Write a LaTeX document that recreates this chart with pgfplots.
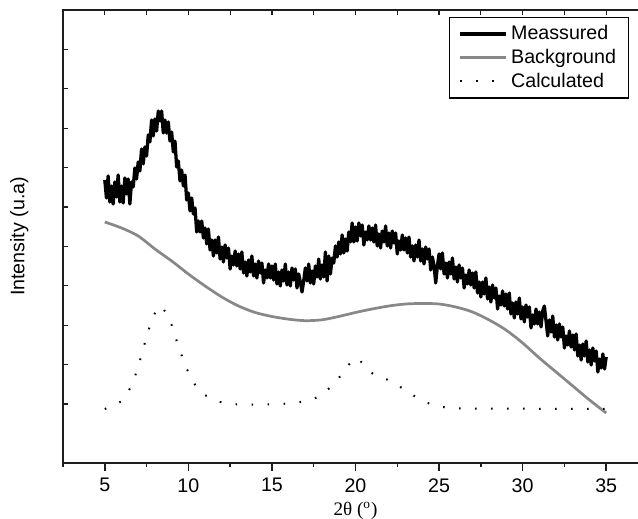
\documentclass[border=0pt]{standalone}
\usepackage{fontspec}
\setmainfont{Liberation Sans}
\newfontfamily\timesf{Liberation Serif}
\usepackage{pgfplots}
\pgfplotsset{compat=1.18}
\definecolor{bggray}{RGB}{136,136,136}
\definecolor{axcol}{RGB}{30,30,30}
\begin{document}
\begin{tikzpicture}
\path[use as bounding box] (-34.65pt,-30.8pt) rectangle (316.25pt,254.65pt);
\begin{axis}[
  at={(0pt,0pt)}, anchor=south west, scale only axis,
  width=321.75pt, height=249.15pt,
  xmin=2.5, xmax=37.5, ymin=0, ymax=453,
  xtick={5,10,...,35},
  minor xtick={2.5,7.5,...,37.5},
  ytick=\empty,
  xtick pos=left, tick align=outside,
  major tick length=4.4pt, minor tick length=2.2pt,
  every tick/.style={line width=0.8pt, axcol},
  axis line style={line width=0.8pt, axcol},
  /pgf/number format/assume math mode=true,
  xticklabel style={font=\fontsize{10.8}{13}\selectfont, yshift=-0.5pt},
  xlabel={\timesf 2θ (\textsuperscript{o})},
  xlabel style={at={(axis description cs:0.5,0)}, anchor=center, yshift=-26.5pt, font=\fontsize{10.5}{12}\selectfont},
  ylabel={Intensity (u.a)},
  ylabel style={at={(axis description cs:-0.048,0.5)}, anchor=south, font=\fontsize{10.8}{13}\selectfont},
  legend image code/.code={\draw[#1] (0pt,0pt) -- (25pt,0pt);},
  legend cell align=left,
  legend style={at={(rel axis cs:0.968,0.985)}, anchor=north east, draw=black, line width=0.6pt,
    font=\fontsize{10.8}{13}\selectfont, inner xsep=5pt, inner ysep=2.5pt, row sep=-0.3pt,
    nodes={inner xsep=2pt}},
]
\addplot[black, line width=1.8pt, line join=round] coordinates {
(5.0,283) (5.1,265) (5.2,287) (5.3,261) (5.4,277) (5.5,259) (5.6,281) (5.7,266) (5.8,288) (5.9,261)
(6.0,277) (6.1,260) (6.2,285) (6.3,269) (6.4,284) (6.5,259) (6.6,281) (6.7,276) (6.8,295) (6.9,284)
(7.0,301) (7.1,292) (7.2,314) (7.3,299) (7.4,316) (7.5,307) (7.6,328) (7.7,321) (7.8,343) (7.9,327)
(8.0,344) (8.1,332) (8.2,352) (8.3,342) (8.4,352) (8.5,330) (8.6,343) (8.7,330) (8.8,341) (8.9,322)
(9.0,331) (9.1,311) (9.2,322) (9.3,296) (9.4,302) (9.5,282) (9.6,293) (9.7,277) (9.8,288) (9.9,263)
(10.0,270) (10.1,252) (10.2,265) (10.3,249) (10.4,255) (10.5,231) (10.6,242) (10.7,231) (10.8,242) (10.9,225)
(11.0,235) (11.1,219) (11.2,234) (11.3,213) (11.4,223) (11.5,207) (11.6,223) (11.7,210) (11.8,226) (11.9,204)
(12.0,216) (12.1,201) (12.2,218) (12.3,205) (12.4,215) (12.5,194) (12.6,207) (12.7,198) (12.8,212) (12.9,197)
(13.0,209) (13.1,194) (13.2,211) (13.3,190) (13.4,201) (13.5,187) (13.6,203) (13.7,191) (13.8,207) (13.9,187)
(14.0,199) (14.1,185) (14.2,202) (14.3,190) (14.4,200) (14.5,180) (14.6,193) (14.7,185) (14.8,199) (14.9,185)
(15.0,197) (15.1,183) (15.2,199) (15.3,179) (15.4,191) (15.5,177) (15.6,193) (15.7,182) (15.8,199) (15.9,178)
(16.0,191) (16.1,177) (16.2,195) (16.3,183) (16.4,194) (16.5,175) (16.6,189) (16.7,181) (16.8,171) (16.9,182)
(17.0,195) (17.1,182) (17.2,199) (17.3,180) (17.4,192) (17.5,179) (17.6,197) (17.7,186) (17.8,204) (17.9,184)
(18.0,198) (18.1,186) (18.2,211) (18.3,182) (18.4,207) (18.5,189) (18.6,205) (18.7,200) (18.8,217) (18.9,206)
(19.0,221) (19.1,209) (19.2,228) (19.3,210) (19.4,224) (19.5,212) (19.6,231) (19.7,221) (19.8,240) (19.9,221)
(20.0,236) (20.1,222) (20.2,240) (20.3,227) (20.4,238) (20.5,218) (20.6,231) (20.7,223) (20.8,237) (20.9,223)
(21.0,235) (21.1,221) (21.2,238) (21.3,217) (21.4,229) (21.5,215) (21.6,232) (21.7,221) (21.8,237) (21.9,217)
(22.0,230) (22.1,215) (22.2,232) (22.3,220) (22.4,230) (22.5,209) (22.6,222) (22.7,213) (22.8,228) (22.9,213)
(23.0,225) (23.1,210) (23.2,226) (23.3,206) (23.4,217) (23.5,202) (23.6,218) (23.7,206) (23.8,223) (23.9,202)
(24.0,214) (24.1,199) (24.2,216) (24.3,204) (24.4,214) (24.5,193) (24.6,206) (24.7,197) (24.8,180) (24.9,197)
(25.0,209) (25.1,194) (25.2,210) (25.3,189) (25.4,200) (25.5,185) (25.6,201) (25.7,189) (25.8,205) (25.9,184)
(26.0,196) (26.1,181) (26.2,198) (26.3,185) (26.4,195) (26.5,175) (26.6,188) (26.7,179) (26.8,193) (26.9,178)
(27.0,190) (27.1,175) (27.2,191) (27.3,170) (27.4,181) (27.5,166) (27.6,181) (27.7,169) (27.8,185) (27.9,164)
(28.0,176) (28.1,161) (28.2,178) (28.3,165) (28.4,175) (28.5,154) (28.6,167) (28.7,158) (28.8,172) (28.9,157)
(29.0,169) (29.1,154) (29.2,170) (29.3,149) (29.4,160) (29.5,145) (29.6,161) (29.7,149) (29.8,165) (29.9,144)
(30.0,156) (30.1,141) (30.2,158) (30.3,146) (30.4,156) (30.5,135) (30.6,148) (30.7,139) (30.8,154) (30.9,139)
(31.0,151) (31.1,136) (31.2,152) (31.3,157) (31.4,142) (31.5,127) (31.6,143) (31.7,131) (31.8,147) (31.9,126)
(32.0,138) (32.1,123) (32.2,139) (32.3,126) (32.4,136) (32.5,115) (32.6,127) (32.7,118) (32.8,132) (32.9,116)
(33.0,128) (33.1,113) (33.2,129) (33.3,107) (33.4,118) (33.5,103) (33.6,119) (33.7,107) (33.8,122) (33.9,101)
(34.0,113) (34.1,98) (34.2,115) (34.3,102) (34.4,112) (34.5,91) (34.6,104) (34.7,95) (34.8,109) (34.9,94)
(35.0,106)
};
\addlegendentry{Meassured}
\addplot[bggray, line width=1.5pt, smooth] coordinates {
(5,241) (6,235) (7,227) (8,214) (9,202) (10,189) (11,177) (12,166) (13,157) (14,150.5)
(15,146.5) (16,143.8) (17,142.3) (18,143.2) (19,146.5) (20,150.5) (21,154) (22,157) (23,159) (24,159.5)
(25,159) (26,156) (27,151) (28,143) (29,133) (30,120) (31,105) (32,91) (33,77) (34,63) (35,50)
};
\addlegendentry{Background}
\addplot[black, line width=1.1pt, dash pattern=on 0.9pt off 7.9pt, smooth, tension=0.4] coordinates {
(5,54) (6,62) (6.6,77.5) (6.95,94) (7.25,111) (7.53,128) (7.84,144) (8.1,153) (8.3,157) (8.52,154)
(9.0,138) (9.34,120) (9.68,104) (10.1,87) (10.73,71) (11.7,62) (12.6,59) (13.6,58.5) (14.6,58.5) (15.55,59)
(16.5,60.5) (17.5,64) (18.45,75) (19.0,85) (19.78,102) (20.1,105) (20.45,99) (21.13,88) (22.1,82) (23.05,72)
(24.03,62) (24.98,56.5) (25.95,55) (27,54.5) (35,54)
};
\addlegendentry{Calculated}
\end{axis}
\begin{axis}[
  at={(0pt,0pt)}, anchor=south west, scale only axis,
  width=321.75pt, height=249.15pt,
  xmin=2.5, xmax=37.5, ymin=0, ymax=453,
  xtick={2.5,5,...,37.5}, xticklabels={},
  xtick pos=right,
  ytick={59,98.4,137.8,177.2,216.6,256,295.4,334.8,374.2,413.6}, yticklabels={},
  ytick pos=left,
  tick align=inside, major tick length=2.5pt,
  every tick/.style={line width=0.7pt, axcol},
  axis line style={draw=none},
]
\end{axis}
\end{tikzpicture}
\end{document}
